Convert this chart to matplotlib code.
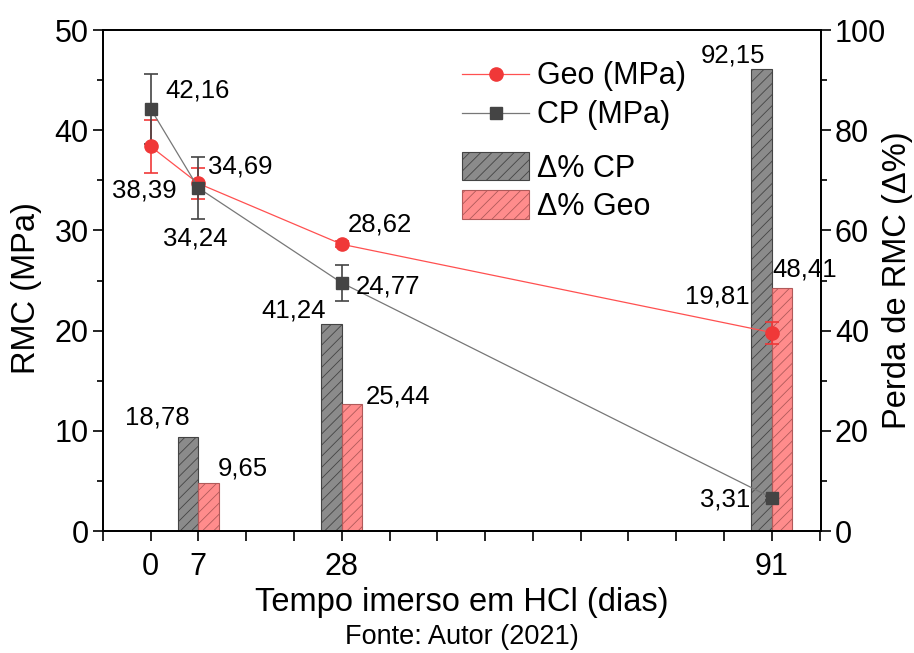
import numpy as np
import matplotlib.pyplot as plt

plt.rcParams['font.family'] = ['Liberation Sans', 'DejaVu Sans']
plt.rcParams['hatch.linewidth'] = 0.6

# data
dias = [0, 7, 28, 91]
geo = [38.39, 34.69, 28.62, 19.81]
geo_err = [2.65, 1.57, 0.3, 1.1]
cp = [42.16, 34.24, 24.77, 3.31]
cp_err = [3.5, 3.05, 1.8, 0.2]

dias_barra = [7, 28, 91]
delta_cp = [18.78, 41.24, 92.15]
delta_geo = [9.65, 25.44, 48.41]

# value labels (text, x in dias, y in MPa)
rotulos = ['42,16', '38,39', '34,69', '34,24', '28,62', '24,77', '19,81', '3,31',
           '92,15', '48,41', '41,24', '25,44', '18,78', '9,65']
rot_x = [6.9, -0.9, 13.2, 6.5, 33.6, 34.8, 83.0, 84.1, 85.3, 95.8, 20.9, 36.3, 1.0, 13.5]
rot_y = [44.0, 34.0, 36.35, 29.2, 30.6, 24.4, 23.4, 3.1, 47.5, 26.1, 22.0, 13.4, 11.3, 6.2]

xt_lab = {0: '0', 7: '7', 28: '28', 91: '91'}

fig = plt.figure(figsize=(9.14, 6.53), dpi=100)
ax = fig.add_axes([0.1124, 0.1868, 0.7859, 0.7672])
ax2 = ax.twinx()
ax.set_zorder(ax2.get_zorder() + 1)
ax.patch.set_visible(False)

w = 3
b1 = ax2.bar(np.array(dias_barra) - w / 2, delta_cp, width=w, facecolor=(0.42, 0.42, 0.42, 0.78),
             edgecolor='#444444', linewidth=0.8, hatch='///', label='Δ% CP')
b2 = ax2.bar(np.array(dias_barra) + w / 2, delta_geo, width=w, facecolor=(1.0, 0.4, 0.4, 0.75),
             edgecolor='#b05a5a', linewidth=0.8, hatch='///', label='Δ% Geo')

l1 = ax.errorbar(dias, geo, yerr=geo_err, color='#f03838', marker='o', markersize=9.5,
                 linewidth=0.9, elinewidth=1.2, capsize=5, capthick=1.2, label='Geo (MPa)')
l1[0].set_color('#ff5050')
l1[0].set_markerfacecolor('#f03838')
l1[0].set_markeredgecolor('#f03838')
l2 = ax.errorbar(dias, cp, yerr=cp_err, color='#444444', marker='s', markersize=9,
                 linewidth=0.9, elinewidth=1.2, capsize=5, capthick=1.2, label='CP (MPa)')
l2[0].set_color('#777777')
l2[0].set_markerfacecolor('#444444')
l2[0].set_markeredgecolor('#444444')

for t, x, y in zip(rotulos, rot_x, rot_y):
    ax.text(x, y, t, fontsize=18.5, ha='center', va='center')

ax.set_xlim(-7, 98.2)
ax.set_ylim(0, 50)
ax2.set_ylim(0, 100)

xt = list(range(-7, 99, 7))
ax.set_xticks(xt)
ax.set_xticklabels([xt_lab.get(v, '') for v in xt])
ax.set_yticks(range(0, 51, 10))
ax.set_yticks(range(5, 50, 10), minor=True)
ax2.set_yticks(range(0, 101, 20))
ax2.set_yticks(range(10, 100, 20), minor=True)

for a in (ax, ax2):
    a.tick_params(direction='out', length=7, width=1.2, labelsize=22, pad=3)
    a.tick_params(which='minor', direction='out', length=4, width=1.2)
    for s in a.spines.values():
        s.set_linewidth(1.3)
ax.tick_params(axis='x', pad=8)

ax.set_xlabel('Tempo imerso em HCl (dias)', fontsize=23.5, labelpad=4)
ax.set_ylabel('RMC (MPa)', fontsize=23.5)
ax.yaxis.set_label_coords(-0.085, 0.485)
ax2.set_ylabel('Perda de RMC (Δ%)', fontsize=23.5)
ax2.yaxis.set_label_coords(1.085, 0.5)

lg1 = ax.legend(handles=[l1[0], l2[0]], labels=['Geo (MPa)', 'CP (MPa)'], loc='upper left',
                bbox_to_anchor=(0.492, 0.925), bbox_transform=fig.transFigure, frameon=False,
                fontsize=22, handlelength=2.2, labelspacing=0.3, handletextpad=0.26,
                borderaxespad=0)
ax.add_artist(lg1)
ax.legend(handles=[b1, b2], loc='upper left', bbox_to_anchor=(0.492, 0.786),
          bbox_transform=fig.transFigure, frameon=False, fontsize=22,
          handlelength=2.2, handleheight=1.05, labelspacing=0.22, handletextpad=0.26,
          borderaxespad=0)

fig.text(0.505, 0.024, 'Fonte: Autor (2021)', fontsize=19.5, ha='center', va='center')

plt.savefig('out.png', dpi=100)
